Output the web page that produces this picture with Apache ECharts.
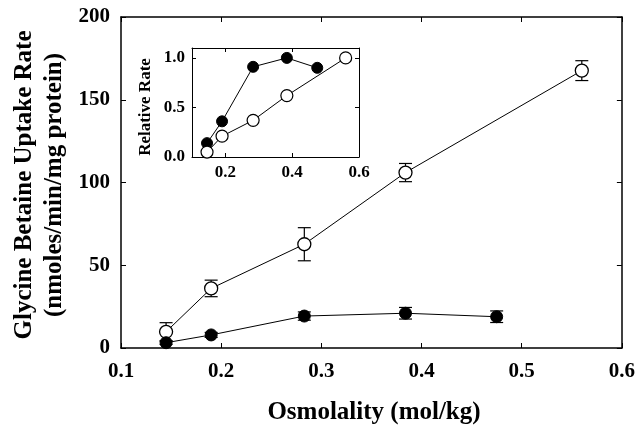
<!DOCTYPE html>
<html><head><meta charset="utf-8">
<script src="https://cdn.jsdelivr.net/npm/echarts@6/dist/echarts.min.js"></script>
<style>html,body{margin:0;padding:0;background:#fff}#c{width:638px;height:429px}</style>
</head><body><div id="c"></div>
<script>
const xOpen = [0.145, 0.19, 0.283, 0.384, 0.56];
const yOpen = [9.8, 36, 62.7, 106, 167.6];
const errOpen = [5.5, 5, 10, 5.5, 6];
const xFilled = [0.145, 0.19, 0.283, 0.384, 0.475];
const yFilled = [3.2, 7.9, 19.3, 21, 18.9];
const errFilled = [1, 1.5, 2.5, 3.5, 3.5];
const relFilled = [0.14, 0.36, 0.91, 1.0, 0.9];
const relOpen = [0.05, 0.21, 0.37, 0.62, 1.0];
const insetXTicks = [0.2, 0.4, 0.6];
const insetYTicks = [0, 0.5, 1.0];

const FONT = 'Liberation Serif';
const pairs = (xs, ys) => xs.map((x, i) => [x, ys[i]]);
const errData = (xs, ys, es) => xs.map((x, i) => [x, ys[i] - es[i], ys[i] + es[i]]);

function errRender(params, api) {
  const x = api.value(0), lo = api.value(1), hi = api.value(2);
  const a = api.coord([x, hi]), b = api.coord([x, lo]);
  const w = 6.5;
  const st = {stroke: '#000', lineWidth: 1.2};
  return {type: 'group', children: [
    {type: 'line', shape: {x1: a[0], y1: a[1], x2: b[0], y2: b[1]}, style: st},
    {type: 'line', shape: {x1: a[0]-w, y1: a[1], x2: a[0]+w, y2: a[1]}, style: st},
    {type: 'line', shape: {x1: b[0]-w, y1: b[1], x2: b[0]+w, y2: b[1]}, style: st}
  ]};
}

const axisLine = {show: true, onZero: false, lineStyle: {color: '#000', width: 1.5}};
const axisLineIn = {show: true, onZero: false, lineStyle: {color: '#000', width: 1}};
const tickIn = {show: true, inside: true, length: 5, lineStyle: {color: '#000', width: 1}};
const lbl = {color: '#000', fontFamily: FONT, fontWeight: 'bold', fontSize: 21};
const lblIn = {color: '#000', fontFamily: FONT, fontWeight: 'bold', fontSize: 17};
const insetXTick = {show: true, inside: true, length: 4, lineStyle: {color: '#000'}, customValues: insetXTicks};
const insetYTick = {show: true, inside: true, length: 4, lineStyle: {color: '#000'}, customValues: insetYTicks};

const chart = echarts.init(document.getElementById('c'), null, {renderer: 'canvas'});
chart.setOption({
  animation: false,
  backgroundColor: '#fff',
  grid: [
    {left: 121, top: 17, right: 15, bottom: 81},
    {left: 192, top: 48, width: 167, height: 109, backgroundColor: '#fff', show: true, borderWidth: 0}
  ],
  xAxis: [
    {gridIndex: 0, type: 'value', min: 0.1, max: 0.6, interval: 0.1, axisLine, axisTick: tickIn, splitLine: {show: false},
      axisLabel: Object.assign({margin: 13, formatter: v => v.toFixed(1)}, lbl)},
    {gridIndex: 0, type: 'value', position: 'top', min: 0.1, max: 0.6, interval: 0.1, axisLine, axisTick: tickIn, splitLine: {show: false}, axisLabel: {show: false}},
    {gridIndex: 1, type: 'value', min: 0.1, max: 0.6, interval: 0.1, axisLine: axisLineIn, axisTick: insetXTick, splitLine: {show: false},
      axisLabel: Object.assign({margin: 7, customValues: insetXTicks, formatter: v => v.toFixed(1)}, lblIn)},
    {gridIndex: 1, type: 'value', position: 'top', min: 0.1, max: 0.6, interval: 0.1, axisLine: axisLineIn, axisTick: insetXTick, splitLine: {show: false}, axisLabel: {show: false}}
  ],
  yAxis: [
    {gridIndex: 0, type: 'value', min: 0, max: 200, interval: 50, axisLine, axisTick: tickIn, splitLine: {show: false},
      axisLabel: Object.assign({margin: 11}, lbl)},
    {gridIndex: 0, type: 'value', position: 'right', min: 0, max: 200, interval: 50, axisLine, axisTick: tickIn, splitLine: {show: false}, axisLabel: {show: false}},
    {gridIndex: 1, type: 'value', min: 0, max: 1.1, interval: 0.5, axisLine: axisLineIn, axisTick: insetYTick, splitLine: {show: false},
      axisLabel: Object.assign({margin: 7, customValues: insetYTicks, formatter: v => v.toFixed(1)}, lblIn)},
    {gridIndex: 1, type: 'value', position: 'right', min: 0, max: 1.1, interval: 0.5, axisLine: axisLineIn, axisTick: insetYTick, splitLine: {show: false}, axisLabel: {show: false}}
  ],
  series: [
    {type: 'custom', xAxisIndex: 0, yAxisIndex: 0, data: errData(xOpen, yOpen, errOpen), renderItem: errRender, z: 1},
    {type: 'custom', xAxisIndex: 0, yAxisIndex: 0, data: errData(xFilled, yFilled, errFilled), renderItem: errRender, z: 1},
    {type: 'line', xAxisIndex: 0, yAxisIndex: 0, data: pairs(xOpen, yOpen), symbol: 'circle', symbolSize: 13,
      lineStyle: {color: '#000', width: 1}, itemStyle: {color: '#fff', borderColor: '#000', borderWidth: 1.3}, z: 3},
    {type: 'line', xAxisIndex: 0, yAxisIndex: 0, data: pairs(xFilled, yFilled), symbol: 'circle', symbolSize: 12,
      lineStyle: {color: '#000', width: 1}, itemStyle: {color: '#000', borderColor: '#000', borderWidth: 1}, z: 3},
    {type: 'line', xAxisIndex: 2, yAxisIndex: 2, data: pairs(xFilled, relFilled), symbol: 'circle', symbolSize: 11,
      lineStyle: {color: '#000', width: 1}, itemStyle: {color: '#000', borderColor: '#000', borderWidth: 1}, z: 5},
    {type: 'line', xAxisIndex: 2, yAxisIndex: 2, data: pairs(xOpen, relOpen), symbol: 'circle', symbolSize: 12,
      lineStyle: {color: '#000', width: 1}, itemStyle: {color: '#fff', borderColor: '#000', borderWidth: 1.2}, z: 6}
  ],
  graphic: [
    {type: 'text', x: 25, y: 185, rotation: Math.PI / 2, style: {text: 'Glycine Betaine Uptake Rate', fill: '#000', font: 'bold 25px "Liberation Serif"', textAlign: 'center', textVerticalAlign: 'middle'}},
    {type: 'text', x: 55, y: 185, rotation: Math.PI / 2, style: {text: '(nmoles/min/mg protein)', fill: '#000', font: 'bold 25px "Liberation Serif"', textAlign: 'center', textVerticalAlign: 'middle'}},
    {type: 'text', x: 374, y: 413, style: {text: 'Osmolality (mol/kg)', fill: '#000', font: 'bold 25px "Liberation Serif"', textAlign: 'center', textVerticalAlign: 'middle'}},
    {type: 'text', x: 146, y: 107, rotation: Math.PI / 2, style: {text: 'Relative Rate', fill: '#000', font: 'bold 17px "Liberation Serif"', textAlign: 'center', textVerticalAlign: 'middle'}}
  ]
});
</script></body></html>
